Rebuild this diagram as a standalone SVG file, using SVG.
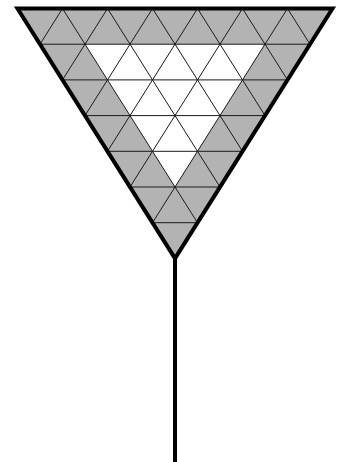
<svg xmlns="http://www.w3.org/2000/svg" width="338" height="462" viewBox="0 0 338 462">
  <style>
    .grid { stroke: #1a1a1a; stroke-width: 1; fill: none; }
    .outline { stroke: #000; stroke-width: 4; fill: none; stroke-linejoin: miter; stroke-miterlimit: 10; }
  </style>
  <rect width="338" height="462" fill="#fff"/>
  <g id="triangle">
    <polygon points="17.5,8.5 332.5,8.5 175,258.4" fill="#b3b3b3"/>
    <polygon points="85,44.2 265,44.2 175,187" fill="#fff"/>
    <g class="grid">
      <path d="M40,44.2H310 M62.5,79.9H287.5 M85,115.6H265 M107.5,151.3H242.5 M130,187H220 M152.5,222.7H197.5"/>
      <path d="M62.5,8.5L197.5,222.7 M107.5,8.5L220,187 M152.5,8.5L242.5,151.3 M197.5,8.5L265,115.6 M242.5,8.5L287.5,79.9 M287.5,8.5L310,44.2"/>
      <path d="M62.5,8.5L40,44.2 M107.5,8.5L62.5,79.9 M152.5,8.5L85,115.6 M197.5,8.5L107.5,151.3 M242.5,8.5L130,187 M287.5,8.5L152.5,222.7"/>
    </g>
    <polygon class="outline" points="17.5,8.5 332.5,8.5 175,258.4"/>
  </g>
  <g id="stem">
    <line x1="175" y1="258.4" x2="175" y2="462" stroke="#000" stroke-width="4"/>
  </g>
</svg>
